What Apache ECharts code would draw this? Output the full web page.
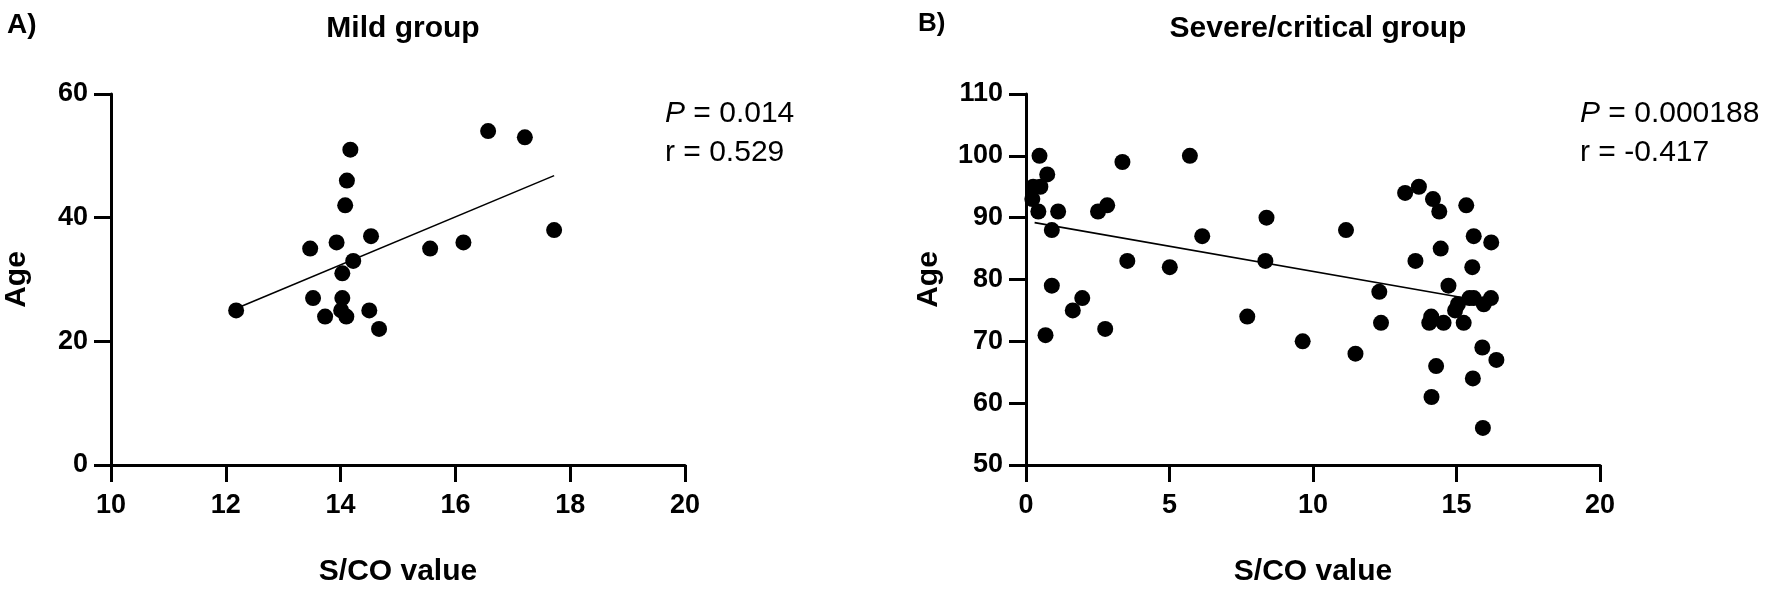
<!DOCTYPE html>
<html>
<head>
<meta charset="utf-8">
<script src="https://cdn.jsdelivr.net/npm/echarts@6/dist/echarts.min.js"></script>
<style>
html,body{margin:0;padding:0;background:#fff;}
#c{width:1770px;height:592px;}
</style>
</head>
<body>
<div id="c"></div>
<script>
// Mild group: [S/CO value, Age]
const mildPoints = [
  [12.18,25],[13.47,35],[13.52,27],[13.73,24],[13.93,36],[14.03,31],[14.03,27],
  [14.01,25],[14.10,24],[14.08,42],[14.11,46],[14.17,51],[14.22,33],[14.53,37],
  [14.50,25],[14.67,22],[15.56,35],[16.14,36],[16.57,54],[17.21,53],[17.72,38]
];
const mildFit = [[12.18,25.3],[17.72,46.8]];

// Severe/critical group: [S/CO value, Age]
const severePoints = [
  [0.47,100],[0.74,97],[0.25,95],[0.50,95],[0.22,93],[0.43,91],[1.12,91],
  [0.90,88],[0.90,79],[0.68,71],[1.63,75],[1.96,77],[2.51,91],[2.83,92],
  [2.76,72],[3.36,99],[3.53,83],[5.01,82],[5.71,100],[6.14,87],[7.71,74],
  [8.38,90],[8.34,83],[9.64,70],[11.15,88],[11.48,68],[12.31,78],[12.37,73],
  [13.21,94],[13.69,95],[14.18,93],[14.40,91],[15.34,92],[13.57,83],[14.45,85],
  [15.60,87],[16.21,86],[15.55,82],[14.72,79],[15.45,77],[15.60,77],[16.20,77],
  [15.05,76],[14.95,75],[15.95,76],[14.12,74],[14.05,73],[14.55,73],[15.25,73],
  [15.90,69],[16.39,67],[14.29,66],[15.57,64],[14.13,61],[15.92,56]
];
const severeFit = [[0.30,89.2],[15.19,77.1]];

const mildTitle = 'Mild group';
const severeTitle = 'Severe/critical group';
const mildStats = ['0.014','0.529'];
const severeStats = ['0.000188','-0.417'];

const FONT = '"Liberation Sans", Arial, Helvetica, sans-serif';
const chart = echarts.init(document.getElementById('c'), null, {renderer:'canvas'});

function xAxisCfg(gi, min, max, interval){
  return {
    type:'value', gridIndex:gi, min:min, max:max, interval:interval,
    name:'S/CO value', nameLocation:'middle', nameGap:92,
    nameTextStyle:{fontFamily:FONT, fontWeight:'bold', fontSize:30, color:'#000'},
    axisLine:{show:true, onZero:false, lineStyle:{color:'#000', width:3}},
    axisTick:{show:true, length:17, lineStyle:{color:'#000', width:3}},
    axisLabel:{margin:27, fontFamily:FONT, fontWeight:'bold', fontSize:27, color:'#000'},
    splitLine:{show:false}
  };
}
function yAxisCfg(gi, min, max, interval, gap){
  return {
    type:'value', gridIndex:gi, min:min, max:max, interval:interval,
    name:'Age', nameLocation:'middle', nameGap:gap, nameRotate:90,
    nameTextStyle:{fontFamily:FONT, fontWeight:'bold', fontSize:30, color:'#000'},
    axisLine:{show:true, onZero:false, lineStyle:{color:'#000', width:3}},
    axisTick:{show:true, length:17, lineStyle:{color:'#000', width:3}},
    axisLabel:{margin:23, fontFamily:FONT, fontWeight:'bold', fontSize:27, color:'#000'},
    splitLine:{show:false}
  };
}
function statText(x, vals){
  return [
    {type:'text', left:x, top:99, style:{
      text:'{i|P} = ' + vals[0],
      rich:{i:{fontStyle:'italic', fontFamily:FONT, fontSize:30, fill:'#000'}},
      font:'30px ' + FONT, fill:'#000'}},
    {type:'text', left:x, top:138, style:{
      text:'r = ' + vals[1], font:'30px ' + FONT, fill:'#000'}}
  ];
}

chart.setOption({
  backgroundColor:'#fff',
  animation:false,
  title:[
    {text:mildTitle, left:398, top:9, textAlign:'center',
     textStyle:{fontFamily:FONT, fontWeight:'bold', fontSize:30, color:'#000'}},
    {text:severeTitle, left:1313, top:9, textAlign:'center',
     textStyle:{fontFamily:FONT, fontWeight:'bold', fontSize:30, color:'#000'}},
    {text:'A)', left:2, top:6,
     textStyle:{fontFamily:FONT, fontWeight:'bold', fontSize:28, color:'#000'}},
    {text:'B)', left:913, top:6,
     textStyle:{fontFamily:FONT, fontWeight:'bold', fontSize:26, color:'#000'}}
  ],
  grid:[
    {left:111, top:94, width:574, height:381},
    {left:1026, top:94, width:574, height:381}
  ],
  xAxis:[ xAxisCfg(0,10,20,2), xAxisCfg(1,0,20,5) ],
  yAxis:[ yAxisCfg(0,0,60,20,79), yAxisCfg(1,50,110,10,82) ],
  series:[
    {type:'line', xAxisIndex:0, yAxisIndex:0, data:mildFit, showSymbol:false, symbol:'none',
     lineStyle:{color:'#000', width:1.6}, z:2},
    {type:'scatter', xAxisIndex:0, yAxisIndex:0, data:mildPoints, symbolSize:16,
     itemStyle:{color:'#000', opacity:1}, z:3},
    {type:'line', xAxisIndex:1, yAxisIndex:1, data:severeFit, showSymbol:false, symbol:'none',
     lineStyle:{color:'#000', width:1.6}, z:2},
    {type:'scatter', xAxisIndex:1, yAxisIndex:1, data:severePoints, symbolSize:16,
     itemStyle:{color:'#000', opacity:1}, z:3}
  ],
  graphic: statText(665, mildStats).concat(statText(1580, severeStats))
});
</script>
</body>
</html>
